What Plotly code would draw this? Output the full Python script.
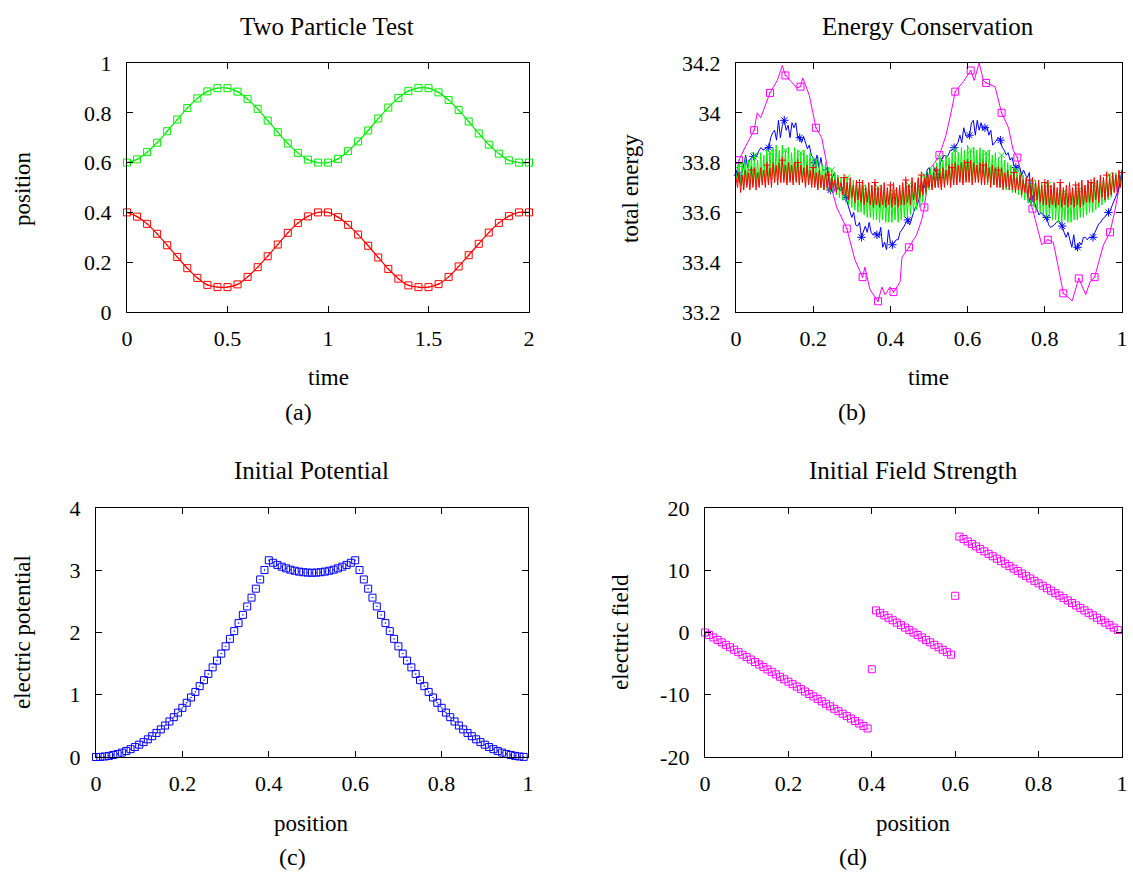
import numpy as np
import plotly.graph_objects as go

W, H = 1133, 875
SERIF = "Liberation Serif"
TICK = 22

# ---------------- (a) Two Particle Test ----------------
time_a = [round(0.05 * i, 2) for i in range(41)]
pos_green = [0.600, 0.613, 0.642, 0.680, 0.726, 0.773, 0.819, 0.858, 0.886, 0.899,
             0.899, 0.885, 0.855, 0.816, 0.769, 0.722, 0.677, 0.639, 0.612, 0.600,
             0.600, 0.615, 0.646, 0.685, 0.729, 0.777, 0.821, 0.860, 0.887, 0.900,
             0.899, 0.882, 0.851, 0.811, 0.765, 0.717, 0.672, 0.636, 0.609, 0.600,
             0.600]
pos_red = [0.400, 0.383, 0.354, 0.314, 0.268, 0.221, 0.176, 0.137, 0.109, 0.100,
           0.100, 0.111, 0.141, 0.180, 0.224, 0.271, 0.318, 0.357, 0.384, 0.400,
           0.400, 0.381, 0.350, 0.311, 0.266, 0.219, 0.173, 0.134, 0.107, 0.100,
           0.100, 0.112, 0.141, 0.183, 0.228, 0.274, 0.319, 0.358, 0.385, 0.400,
           0.400]

# ---------------- (b) Energy Conservation ----------------
# coarsest run (magenta): sampled points along the trace, markers at every 0.04
mag_t = [0.000, 0.008, 0.023, 0.047, 0.055, 0.064, 0.088, 0.107, 0.120, 0.128,
         0.146, 0.157, 0.167, 0.173, 0.190, 0.207, 0.222, 0.235, 0.247, 0.261,
         0.287, 0.308, 0.328, 0.334, 0.347, 0.368, 0.378, 0.386, 0.399, 0.408,
         0.425, 0.430, 0.448, 0.468, 0.481, 0.488, 0.498, 0.505, 0.515, 0.527,
         0.544, 0.557, 0.568, 0.589, 0.608, 0.617, 0.630, 0.641, 0.648, 0.671,
         0.688, 0.706, 0.718, 0.729, 0.744, 0.768, 0.783, 0.792, 0.808, 0.822,
         0.835, 0.848, 0.871, 0.888, 0.906, 0.917, 0.929, 0.943, 0.952, 0.969,
         0.982, 0.995, 1.000]
mag_e = [33.75, 33.81, 33.86, 33.93, 34.00, 33.98, 34.08, 34.13, 34.19, 34.15,
         34.12, 34.10, 34.105, 34.14, 34.07, 33.94, 33.90, 33.80, 33.70, 33.62,
         33.535, 33.41, 33.34, 33.38, 33.29, 33.243, 33.30, 33.27, 33.30, 33.28,
         33.32, 33.42, 33.46, 33.51, 33.57, 33.62, 33.74, 33.78, 33.80, 33.83,
         33.91, 34.00, 34.085, 34.125, 34.17, 34.13, 34.20, 34.13, 34.12, 34.105,
         34.00, 33.94, 33.85, 33.82, 33.72, 33.615, 33.53, 33.47, 33.49, 33.48,
         33.38, 33.275, 33.245, 33.335, 33.27, 33.32, 33.34, 33.42, 33.47, 33.52,
         33.61, 33.72, 33.76]
mag_marks = [1, 3, 6, 9, 12, 15, 18, 20, 22, 25, 29, 32, 35, 39, 42, 44, 48, 50,
             53, 55, 58, 61, 63, 66, 69]

# blue run, sampled every 0.005
t_blue = np.linspace(0.0, 1.0, 201)
e_blue = [33.77, 33.75, 33.72, 33.75, 33.79, 33.83, 33.78, 33.81, 33.82, 33.825,
          33.83, 33.83, 33.85, 33.86, 33.85, 33.855, 33.86, 33.86, 33.90, 33.92,
          33.93, 33.89, 33.97, 33.90, 33.95, 33.97, 33.93, 33.95, 33.90, 33.96,
          33.94, 33.96, 33.90, 33.90, 33.88, 33.905, 33.875, 33.855, 33.87, 33.83,
          33.82, 33.80, 33.83, 33.78, 33.82, 33.77, 33.77, 33.78, 33.73, 33.69,
          33.74, 33.76, 33.69, 33.70, 33.686, 33.70, 33.67, 33.66, 33.63, 33.60,
          33.58, 33.60, 33.55, 33.545, 33.56, 33.50, 33.52, 33.545, 33.52, 33.56,
          33.52, 33.51, 33.52, 33.51, 33.50, 33.54, 33.46, 33.48, 33.45, 33.53,
          33.48, 33.47, 33.48, 33.49, 33.49, 33.52, 33.53, 33.545, 33.56, 33.57,
          33.55, 33.58, 33.60, 33.62, 33.63, 33.66, 33.69, 33.705, 33.71, 33.77,
          33.78, 33.75, 33.73, 33.78, 33.75, 33.74, 33.80, 33.82, 33.83, 33.82,
          33.83, 33.85, 33.85, 33.86, 33.87, 33.88, 33.91, 33.88, 33.94, 33.91,
          33.90, 33.91, 33.96, 33.97, 33.91, 33.97, 33.93, 33.96, 33.93, 33.94,
          33.945, 33.91, 33.93, 33.87, 33.88, 33.89, 33.90, 33.89, 33.86, 33.85,
          33.83, 33.84, 33.81, 33.82, 33.79, 33.78, 33.79, 33.78, 33.75, 33.77,
          33.75, 33.74, 33.76, 33.65, 33.67, 33.63, 33.61, 33.59, 33.60, 33.59,
          33.58, 33.58, 33.55, 33.54, 33.545, 33.55, 33.56, 33.565, 33.56, 33.545,
          33.52, 33.50, 33.52, 33.49, 33.46, 33.51, 33.45, 33.46, 33.48, 33.47,
          33.50, 33.50, 33.49, 33.50, 33.50, 33.50, 33.52, 33.535, 33.555, 33.56,
          33.575, 33.58, 33.59, 33.60, 33.61, 33.63, 33.65, 33.67, 33.686, 33.725,
          33.77]
blue_marks = list(range(1, 201, 8))

# green and red runs, sampled every 0.004
t_fast = np.linspace(0.0, 1.0, 251)
e_green = [33.76, 33.72, 33.79, 33.71, 33.80, 33.70, 33.82, 33.71, 33.81, 33.72,
           33.82, 33.71, 33.83, 33.72, 33.81, 33.71, 33.84, 33.72, 33.83, 33.72,
           33.85, 33.72, 33.84, 33.73, 33.86, 33.72, 33.87, 33.73, 33.85, 33.72,
           33.87, 33.73, 33.85, 33.72, 33.86, 33.73, 33.84, 33.72, 33.86, 33.73,
           33.85, 33.72, 33.84, 33.72, 33.85, 33.71, 33.83, 33.72, 33.84, 33.71,
           33.82, 33.71, 33.81, 33.70, 33.80, 33.70, 33.79, 33.69, 33.80, 33.69,
           33.78, 33.68, 33.77, 33.68, 33.76, 33.67, 33.75, 33.66, 33.74, 33.65,
           33.73, 33.64, 33.74, 33.63, 33.72, 33.62, 33.73, 33.61, 33.71, 33.60,
           33.71, 33.60, 33.70, 33.59, 33.71, 33.58, 33.69, 33.58, 33.70, 33.57,
           33.69, 33.57, 33.70, 33.56, 33.68, 33.57, 33.69, 33.56, 33.68, 33.56,
           33.69, 33.56, 33.68, 33.57, 33.70, 33.56, 33.69, 33.57, 33.70, 33.58,
           33.70, 33.58, 33.71, 33.59, 33.70, 33.60, 33.72, 33.61, 33.73, 33.62,
           33.74, 33.64, 33.75, 33.67, 33.77, 33.69, 33.78, 33.70, 33.79, 33.70,
           33.80, 33.71, 33.82, 33.70, 33.81, 33.71, 33.83, 33.72, 33.82, 33.71,
           33.84, 33.72, 33.85, 33.72, 33.84, 33.73, 33.86, 33.72, 33.85, 33.73,
           33.87, 33.73, 33.85, 33.72, 33.86, 33.73, 33.85, 33.72, 33.86, 33.72,
           33.85, 33.72, 33.84, 33.71, 33.85, 33.72, 33.83, 33.71, 33.84, 33.71,
           33.82, 33.70, 33.83, 33.70, 33.81, 33.69, 33.80, 33.69, 33.79, 33.68,
           33.78, 33.68, 33.77, 33.67, 33.76, 33.66, 33.75, 33.65, 33.74, 33.64,
           33.73, 33.63, 33.72, 33.62, 33.73, 33.61, 33.71, 33.60, 33.72, 33.59,
           33.70, 33.58, 33.71, 33.58, 33.69, 33.57, 33.70, 33.57, 33.68, 33.56,
           33.69, 33.56, 33.68, 33.57, 33.69, 33.56, 33.68, 33.56, 33.69, 33.57,
           33.70, 33.57, 33.69, 33.58, 33.70, 33.58, 33.71, 33.59, 33.70, 33.60,
           33.72, 33.60, 33.71, 33.61, 33.73, 33.62, 33.72, 33.63, 33.74, 33.64,
           33.73, 33.65, 33.75, 33.66, 33.74, 33.68, 33.76, 33.70, 33.75, 33.71,
           33.77]
e_red = [33.74, 33.70, 33.76, 33.68, 33.75, 33.69, 33.77, 33.70, 33.76, 33.69,
         33.77, 33.70, 33.78, 33.69, 33.76, 33.70, 33.78, 33.71, 33.77, 33.70,
         33.79, 33.71, 33.78, 33.70, 33.80, 33.72, 33.79, 33.71, 33.80, 33.72,
         33.81, 33.72, 33.79, 33.71, 33.80, 33.72, 33.79, 33.71, 33.80, 33.72,
         33.80, 33.71, 33.79, 33.72, 33.78, 33.70, 33.79, 33.71, 33.77, 33.70,
         33.78, 33.70, 33.76, 33.69, 33.77, 33.70, 33.75, 33.69, 33.76, 33.70,
         33.75, 33.69, 33.74, 33.70, 33.73, 33.68, 33.74, 33.69, 33.72, 33.67,
         33.74, 33.66, 33.72, 33.65, 33.74, 33.66, 33.71, 33.64, 33.73, 33.65,
         33.72, 33.64, 33.73, 33.63, 33.70, 33.64, 33.72, 33.63, 33.71, 33.62,
         33.72, 33.63, 33.70, 33.62, 33.71, 33.63, 33.72, 33.62, 33.70, 33.63,
         33.71, 33.62, 33.72, 33.63, 33.70, 33.62, 33.71, 33.63, 33.72, 33.63,
         33.73, 33.64, 33.71, 33.63, 33.74, 33.65, 33.72, 33.64, 33.74, 33.66,
         33.75, 33.67, 33.74, 33.68, 33.76, 33.70, 33.75, 33.69, 33.76, 33.70,
         33.77, 33.70, 33.76, 33.69, 33.78, 33.70, 33.77, 33.71, 33.79, 33.70,
         33.78, 33.71, 33.80, 33.71, 33.79, 33.72, 33.80, 33.71, 33.81, 33.72,
         33.80, 33.72, 33.81, 33.71, 33.80, 33.72, 33.79, 33.72, 33.80, 33.71,
         33.79, 33.71, 33.80, 33.72, 33.78, 33.70, 33.79, 33.71, 33.78, 33.70,
         33.77, 33.70, 33.78, 33.69, 33.76, 33.70, 33.77, 33.69, 33.75, 33.69,
         33.76, 33.68, 33.74, 33.69, 33.75, 33.67, 33.73, 33.68, 33.74, 33.66,
         33.73, 33.65, 33.74, 33.64, 33.72, 33.65, 33.73, 33.64, 33.71, 33.63,
         33.72, 33.63, 33.73, 33.62, 33.71, 33.63, 33.72, 33.62, 33.70, 33.63,
         33.72, 33.62, 33.70, 33.63, 33.71, 33.62, 33.72, 33.63, 33.70, 33.62,
         33.71, 33.63, 33.72, 33.62, 33.73, 33.63, 33.71, 33.64, 33.73, 33.64,
         33.72, 33.64, 33.74, 33.65, 33.73, 33.64, 33.75, 33.66, 33.74, 33.65,
         33.75, 33.66, 33.74, 33.67, 33.76, 33.68, 33.75, 33.67, 33.77, 33.70,
         33.76]
green_marks = list(range(2, 251, 10))
red_marks = list(range(10, 251, 10))

# ---------------- (c), (d) initial potential and field ----------------
grid_x = [i / 100 for i in range(100)]
potential = [0.000, 0.002, 0.008, 0.018, 0.032, 0.049, 0.071, 0.097, 0.126, 0.160,
             0.198, 0.239, 0.284, 0.334, 0.387, 0.444, 0.506, 0.571, 0.640, 0.713,
             0.790, 0.871, 0.956, 1.045, 1.138, 1.234, 1.335, 1.440, 1.548, 1.661,
             1.778, 1.898, 2.022, 2.151, 2.283, 2.419, 2.560, 2.704, 2.852, 3.004,
             3.160, 3.120, 3.086, 3.057, 3.031, 3.009, 2.992, 2.978, 2.968, 2.962,
             2.960, 2.962, 2.968, 2.978, 2.992, 3.009, 3.031, 3.057, 3.086, 3.120,
             3.160, 3.004, 2.852, 2.704, 2.560, 2.419, 2.283, 2.151, 2.022, 1.898,
             1.778, 1.661, 1.548, 1.440, 1.335, 1.234, 1.138, 1.045, 0.956, 0.871,
             0.790, 0.713, 0.640, 0.571, 0.506, 0.444, 0.387, 0.334, 0.284, 0.239,
             0.198, 0.160, 0.126, 0.097, 0.071, 0.049, 0.032, 0.018, 0.008, 0.002]
field = [0.00, -0.40, -0.79, -1.19, -1.58, -1.98, -2.37, -2.77, -3.16, -3.56,
         -3.95, -4.35, -4.74, -5.14, -5.53, -5.93, -6.32, -6.72, -7.11, -7.51,
         -7.90, -8.30, -8.69, -9.09, -9.48, -9.88, -10.27, -10.67, -11.06, -11.46,
         -11.85, -12.25, -12.64, -13.04, -13.43, -13.83, -14.22, -14.62, -15.01, -15.41,
         -5.90, 3.55, 3.16, 2.76, 2.37, 1.97, 1.58, 1.18, 0.79, 0.39,
         0.00, -0.40, -0.79, -1.19, -1.58, -1.98, -2.37, -2.77, -3.16, -3.56,
         5.90, 15.41, 15.01, 14.62, 14.22, 13.83, 13.43, 13.04, 12.64, 12.25,
         11.85, 11.46, 11.06, 10.67, 10.27, 9.88, 9.48, 9.09, 8.69, 8.30,
         7.90, 7.51, 7.11, 6.72, 6.32, 5.93, 5.53, 5.14, 4.74, 4.35,
         3.95, 3.56, 3.16, 2.77, 2.37, 1.98, 1.58, 1.19, 0.79, 0.40]

ticks_a_x = [0, 0.5, 1, 1.5, 2]
ticks_a_y = [0, 0.2, 0.4, 0.6, 0.8, 1]
ticks_b_y = [33.2, 33.4, 33.6, 33.8, 34.0, 34.2]
ticks_unit = [0, 0.2, 0.4, 0.6, 0.8, 1]
ticks_c_y = [0, 1, 2, 3, 4]
ticks_d_y = [-20, -10, 0, 10, 20]


def fx(px):
    return px / W


def fy(px):
    return 1 - px / H


def axis(dom, rng, vals, anchor, standoff):
    return dict(domain=dom, range=rng, anchor=anchor, tickmode="array",
                tickvals=vals, ticktext=[f"{v:g}" for v in vals],
                ticks="inside", ticklen=6, tickwidth=1, tickcolor="black",
                showline=True, linewidth=1.3, linecolor="black", mirror="allticks",
                showgrid=False, zeroline=False, automargin=False,
                ticklabelstandoff=standoff,
                tickfont=dict(family=SERIF, size=TICK, color="black"))


def pick(seq, idx):
    return [seq[i] for i in idx]


fig = go.Figure()

SQ = dict(symbol="square-open-dot", size=7, line=dict(width=1))

# (a)
fig.add_trace(go.Scatter(x=time_a, y=pos_green, mode="lines+markers", xaxis="x", yaxis="y",
                         line=dict(color="#00ee00", width=1.2, shape="spline"),
                         marker=dict(color="#00ee00", **SQ), cliponaxis=False))
fig.add_trace(go.Scatter(x=time_a, y=pos_red, mode="lines+markers", xaxis="x", yaxis="y",
                         line=dict(color="#ff0000", width=1.2, shape="spline"),
                         marker=dict(color="#ff0000", **SQ), cliponaxis=False))

# (b)
fig.add_trace(go.Scatter(x=mag_t, y=mag_e, mode="lines", xaxis="x2", yaxis="y2",
                         line=dict(color="#ff00ff", width=1), cliponaxis=False))
fig.add_trace(go.Scatter(x=pick(mag_t, mag_marks), y=pick(mag_e, mag_marks), mode="markers",
                         xaxis="x2", yaxis="y2", marker=dict(color="#ff00ff", **SQ), cliponaxis=False))
fig.add_trace(go.Scatter(x=t_blue, y=e_blue, mode="lines", xaxis="x2", yaxis="y2",
                         line=dict(color="#0000ff", width=1), cliponaxis=False))
fig.add_trace(go.Scatter(x=pick(t_blue, blue_marks), y=pick(e_blue, blue_marks), mode="markers",
                         xaxis="x2", yaxis="y2",
                         marker=dict(color="#0000ff", symbol="asterisk-open", size=7,
                                     line=dict(width=1, color="#0000ff")), cliponaxis=False))
fig.add_trace(go.Scatter(x=t_fast, y=e_green, mode="lines", xaxis="x2", yaxis="y2",
                         line=dict(color="#00ee00", width=1), cliponaxis=False))
fig.add_trace(go.Scatter(x=pick(t_fast, green_marks), y=pick(e_green, green_marks), mode="markers",
                         xaxis="x2", yaxis="y2",
                         marker=dict(color="#00ee00", symbol="x-thin-open", size=6,
                                     line=dict(width=1, color="#00ee00")), cliponaxis=False))
fig.add_trace(go.Scatter(x=t_fast, y=e_red, mode="lines", xaxis="x2", yaxis="y2",
                         line=dict(color="#ff0000", width=1), cliponaxis=False))
fig.add_trace(go.Scatter(x=pick(t_fast, red_marks), y=pick(e_red, red_marks), mode="markers",
                         xaxis="x2", yaxis="y2",
                         marker=dict(color="#ff0000", symbol="cross-thin-open", size=5,
                                     line=dict(width=1, color="#ff0000")), cliponaxis=False))

# (c)
fig.add_trace(go.Scatter(x=grid_x, y=potential, mode="markers", xaxis="x3", yaxis="y3",
                         marker=dict(color="#0000ff", **SQ), cliponaxis=False))
# (d)
fig.add_trace(go.Scatter(x=grid_x, y=field, mode="markers", xaxis="x4", yaxis="y4",
                         marker=dict(color="#ff00ff", **SQ), cliponaxis=False))

top = [fy(312), fy(63)]
bot = [fy(757), fy(508)]
XS, YS = 6, 10

fig.update_layout(
    template="none",
    width=W, height=H, margin=dict(l=0, r=0, t=0, b=0, autoexpand=False),
    paper_bgcolor="white", plot_bgcolor="white", showlegend=False,
    xaxis=axis([fx(127), fx(529)], [0, 2], ticks_a_x, "y", XS),
    yaxis=axis(top, [0, 1], ticks_a_y, "x", YS),
    xaxis2=axis([fx(736), fx(1122)], [0, 1], ticks_unit, "y2", XS),
    yaxis2=axis(top, [33.2, 34.2], ticks_b_y, "x2", YS),
    xaxis3=axis([fx(96), fx(528)], [0, 1], ticks_unit, "y3", XS),
    yaxis3=axis(bot, [0, 4], ticks_c_y, "x3", YS),
    xaxis4=axis([fx(705), fx(1122)], [0, 1], ticks_unit, "y4", XS),
    yaxis4=axis(bot, [-20, 20], ticks_d_y, "x4", YS),
)


def text(s, x, y, size, angle=0):
    fig.add_annotation(text=s, x=fx(x), y=fy(y), xref="paper", yref="paper",
                       xanchor="center", yanchor="middle", showarrow=False, textangle=angle,
                       font=dict(family=SERIF, size=size, color="black"))


text("Two Particle Test", 327, 27, 25)
text("Energy Conservation", 928, 27, 25)
text("Initial Potential", 311, 470, 25)
text("Initial Field Strength", 913, 470, 25)

text("time", 328, 378, 23)
text("time", 928, 378, 23)
text("position", 311, 823, 23)
text("position", 913, 823, 23)

text("position", 22, 188, 23, -90)
text("total energy", 630, 188, 23, -90)
text("electric potential", 22, 632, 23, -90)
text("electric field", 620, 632, 23, -90)

text("(a)", 298, 412, 24)
text("(b)", 852, 412, 24)
text("(c)", 292, 857, 24)
text("(d)", 853, 857, 24)

fig.write_html("out.html")
